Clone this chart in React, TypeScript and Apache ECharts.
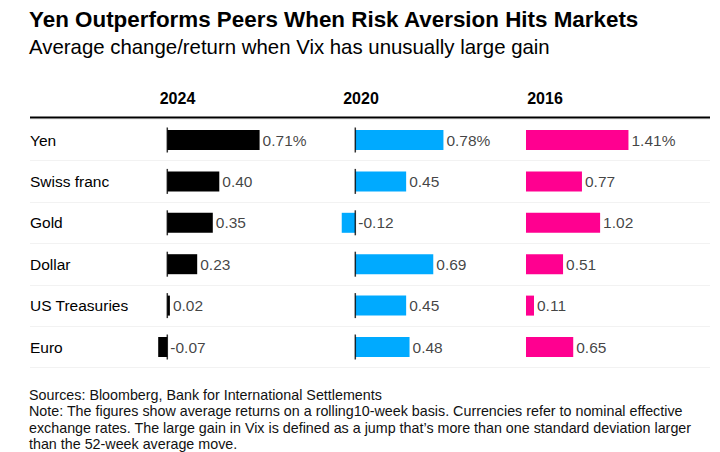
import React, { useEffect, useRef } from "react";
import * as echarts from "echarts";

const categories = ["Yen", "Swiss franc", "Gold", "Dollar", "US Treasuries", "Euro"];
const years = ["2024", "2020", "2016"];
const values2024 = [0.71, 0.4, 0.35, 0.23, 0.02, -0.07];
const values2020 = [0.78, 0.45, -0.12, 0.69, 0.45, 0.48];
const values2016 = [1.41, 0.77, 1.02, 0.51, 0.11, 0.65];

const titleText = "Yen Outperforms Peers When Risk Aversion Hits Markets";
const subtitleText = "Average change/return when Vix has unusually large gain";
const footerText =
  "Sources: Bloomberg, Bank for International Settlements\n" +
  "Note: The figures show average returns on a rolling10-week basis. Currencies refer to nominal effective\n" +
  "exchange rates. The large gain in Vix is defined as a jump that\u2019s more than one standard deviation larger\n" +
  "than the 52-week average move.";

const FONT = '"Liberation Sans", Arial, Helvetica, sans-serif';

const panels = [
  { values: values2024, color: "#000000", left: 154.3, width: 117, min: -0.1, max: 0.8, zeroLine: true, headerX: 177.5 },
  { values: values2020, color: "#00AAFF", left: 338.35, width: 113, min: -0.15, max: 0.85, zeroLine: true, headerX: 361 },
  { values: values2016, color: "#FF0090", left: 526, width: 109, min: 0, max: 1.5, zeroLine: false, headerX: 545 },
];

const GRID_TOP = 119.3;
const GRID_HEIGHT = 248.4;

export default function App() {
  const ref = useRef<HTMLDivElement>(null);

  useEffect(() => {
    if (!ref.current) return;
    const chart = echarts.init(ref.current, null, { renderer: "svg" });

    const grid: any[] = [{ left: 30, right: 10, top: GRID_TOP, height: GRID_HEIGHT }];
    const xAxis: any[] = [
      { gridIndex: 0, type: "value", min: 0, max: 1, show: false },
    ];
    const yAxis: any[] = [
      {
        gridIndex: 0,
        type: "category",
        data: categories,
        inverse: true,
        axisLine: { show: false },
        axisTick: { show: false },
        axisLabel: {
          inside: true,
          margin: 0,
          fontFamily: FONT,
          fontSize: 15.5,
          color: "#000000",
        },
        splitLine: { show: true, interval: 0, lineStyle: { color: "#f2f2f2", width: 1 } },
      },
    ];
    const series: any[] = [];

    panels.forEach((p, i) => {
      const gi = i + 1;
      grid.push({ left: p.left, width: p.width, top: GRID_TOP, height: GRID_HEIGHT });
      xAxis.push({ gridIndex: gi, type: "value", min: p.min, max: p.max, show: false });
      yAxis.push({ gridIndex: gi, type: "category", data: categories, inverse: true, show: false });
      series.push({
        type: "bar",
        xAxisIndex: gi,
        yAxisIndex: gi,
        data: p.values,
        barWidth: 20,
        itemStyle: { color: p.color },
        z: 2,
      });
      series.push({
        type: "scatter",
        xAxisIndex: gi,
        yAxisIndex: gi,
        data: p.values.map((v, k) => [Math.max(v, 0), categories[k]]),
        symbolSize: 0,
        z: 4,
        label: {
          show: true,
          position: "right",
          distance: 3,
          fontFamily: FONT,
          fontSize: 15.5,
          color: "#111111",
          formatter: (q: any) => {
            const v = p.values[q.dataIndex];
            return v.toFixed(2) + (q.dataIndex === 0 ? "%" : "");
          },
        },
      });
      if (p.zeroLine) {
        series.push({
          type: "scatter",
          xAxisIndex: gi,
          yAxisIndex: gi,
          data: categories.map((c) => [0, c]),
          symbol: "rect",
          symbolSize: [1.5, 25],
          itemStyle: { color: "#000000" },
          z: 3,
        });
      }
    });

    const graphic: any[] = [
      {
        type: "text",
        left: 29,
        top: 8,
        style: { text: titleText, font: `bold 22.4px ${FONT}`, fill: "#000000" },
      },
      {
        type: "text",
        left: 29,
        top: 37,
        style: { text: subtitleText, font: `20.4px ${FONT}`, fill: "#000000" },
      },
      ...years.map((y, i) => ({
        type: "text",
        x: panels[i].headerX,
        y: 98,
        style: {
          text: y,
          font: `bold 16px ${FONT}`,
          fill: "#000000",
          align: "center",
          verticalAlign: "middle",
        },
      })),
      {
        type: "line",
        shape: { x1: 30, y1: 117.5, x2: 710, y2: 117.5 },
        style: { stroke: "#000000", lineWidth: 2 },
        z: 10,
      },
      {
        type: "text",
        left: 29,
        top: 386.5,
        style: {
          text: footerText,
          font: `14.3px ${FONT}`,
          lineHeight: 16.5,
          fill: "#111111",
        },
      },
    ];

    chart.setOption({
      animation: false,
      backgroundColor: "#ffffff",
      grid,
      xAxis,
      yAxis,
      series,
      graphic,
    });

    return () => chart.dispose();
  }, []);

  return (
    <div
      ref={ref}
      style={{ position: "absolute", left: 0, top: 0, width: 720, height: 452, background: "#fff" }}
    />
  );
}
